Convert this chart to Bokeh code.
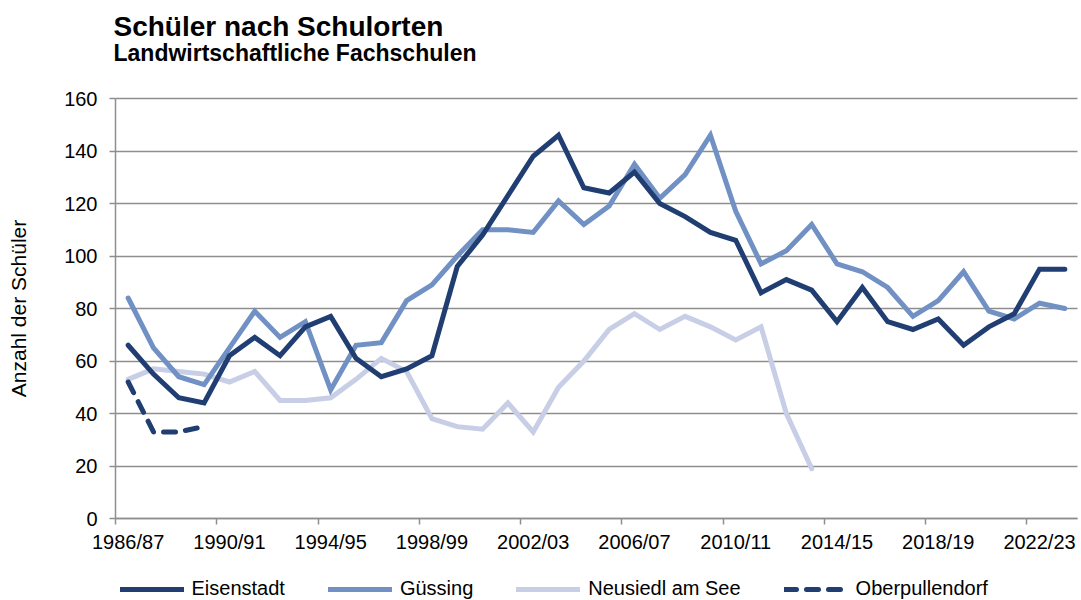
from bokeh.plotting import figure
from bokeh.models import FixedTicker, Label, Legend, LegendItem, Range1d
from bokeh.embed import file_html
from bokeh.resources import INLINE

years = ["1986/87", "1987/88", "1988/89", "1989/90", "1990/91", "1991/92", "1992/93",
         "1993/94", "1994/95", "1995/96", "1996/97", "1997/98", "1998/99", "1999/00",
         "2000/01", "2001/02", "2002/03", "2003/04", "2004/05", "2005/06", "2006/07",
         "2007/08", "2008/09", "2009/10", "2010/11", "2011/12", "2012/13", "2013/14",
         "2014/15", "2015/16", "2016/17", "2017/18", "2018/19", "2019/20", "2020/21",
         "2021/22", "2022/23", "2023/24"]

eisenstadt = [66, 55, 46, 44, 62, 69, 62, 73, 77, 61, 54, 57, 62, 96, 108, 123, 138, 146, 126, 124,
              132, 120, 115, 109, 106, 86, 91, 87, 75, 88, 75, 72, 76, 66, 73, 78, 95, 95]
guessing = [84, 65, 54, 51, 65, 79, 69, 75, 49, 66, 67, 83, 89, 100, 110, 110, 109, 121, 112, 119,
            135, 122, 131, 146, 117, 97, 102, 112, 97, 94, 88, 77, 83, 94, 79, 76, 82, 80]
neusiedl = [53, 57, 56, 55, 52, 56, 45, 45, 46, 53, 61, 56, 38, 35, 34, 44, 33, 50, 60, 72,
            78, 72, 77, 73, 68, 73, 40, 19]
oberpullendorf = [52, 33, 33, 35]

series_names = ["Eisenstadt", "Güssing", "Neusiedl am See", "Oberpullendorf"]
y_ticks = [0, 20, 40, 60, 80, 100, 120, 140, 160]
y_max = 160
label_every = 4

title_text = "Schüler nach Schulorten"
subtitle_text = "Landwirtschaftliche Fachschulen"
y_label_text = "Anzahl der Schüler"

FONT = "Liberation Sans"
GRID = "#8e8e8e"
C_EIS = "#213E72"
C_GUE = "#7190C4"
C_NEU = "#C7CEE6"
C_OBE = "#213E72"
LW = 5

# page geometry (pixels): the plotting frame covers the whole canvas,
# axes are pinned to the chart's own area inside it
W, H = 1081, 600
LEFT, RIGHT, TOP, ZERO_PX = 115, 1077, 98, 518
n = len(years)
w = (RIGHT - LEFT) / n
ppu = (ZERO_PX - TOP) / y_max

def px_to_x(px):
    return -0.5 + (px - LEFT) / w

def px_to_y(py):
    return y_max + (TOP - py) / ppu

p = figure(width=W, height=H,
           x_range=Range1d(px_to_x(0), px_to_x(W)), y_range=Range1d(px_to_y(H), px_to_y(0)),
           output_backend="svg", toolbar_location=None, title=None,
           min_border=0, min_border_left=0, min_border_right=0,
           min_border_top=0, min_border_bottom=0)
p.outline_line_color = None
p.background_fill_color = "white"
p.border_fill_color = "white"

def xs(vals):
    return list(range(len(vals)))

r_eis = p.line(xs(eisenstadt), eisenstadt, line_color=C_EIS, line_width=LW,
               line_join="miter", line_cap="round")
r_gue = p.line(xs(guessing), guessing, line_color=C_GUE, line_width=LW,
               line_join="miter", line_cap="round")
r_neu = p.line(xs(neusiedl), neusiedl, line_color=C_NEU, line_width=LW,
               line_join="miter", line_cap="round")
r_obe = p.line(xs(oberpullendorf), oberpullendorf, line_color=C_OBE, line_width=LW,
               line_dash="12 10", line_join="round", line_cap="round")

# x axis at value 0: labels centred on categories, tick marks on category boundaries
major = list(range(0, n, label_every))
minor = [m - 0.5 for m in major]
xa = p.xaxis[0]
xa.fixed_location = 0
xa.bounds = (-0.5, n - 0.5)
xa.ticker = FixedTicker(ticks=major, minor_ticks=minor)
xa.major_label_overrides = {i: years[i] for i in major}
xa.major_tick_out = 0
xa.major_tick_in = 0
xa.minor_tick_out = 6
xa.minor_tick_in = 0
xa.minor_tick_line_color = GRID
xa.minor_tick_line_width = 1.5
xa.axis_line_color = GRID
xa.axis_line_width = 1.5
xa.major_label_standoff = 6
xa.major_label_text_font = FONT
xa.major_label_text_font_size = "20px"
xa.major_label_text_color = "black"

# y axis at the left edge of the first category
ya = p.yaxis[0]
ya.fixed_location = -0.5
ya.bounds = (0, y_max)
ya.ticker = FixedTicker(ticks=y_ticks)
ya.major_tick_out = 6
ya.major_tick_in = 0
ya.minor_tick_line_color = None
ya.major_tick_line_color = GRID
ya.major_tick_line_width = 1.5
ya.axis_line_color = GRID
ya.axis_line_width = 1.5
ya.major_label_standoff = 12
ya.major_label_text_font = FONT
ya.major_label_text_font_size = "20px"
ya.major_label_text_color = "black"

p.xgrid.visible = False
p.ygrid.ticker = FixedTicker(ticks=y_ticks)
p.ygrid.cross_bounds = (-0.5, n - 0.5)
p.ygrid.grid_line_color = GRID
p.ygrid.grid_line_width = 1.5

p.renderers = [r_neu, r_gue, r_eis, r_obe]

# legend along the bottom
legend = Legend(items=[LegendItem(label=series_names[0], renderers=[r_eis]),
                       LegendItem(label=series_names[1], renderers=[r_gue]),
                       LegendItem(label=series_names[2], renderers=[r_neu]),
                       LegendItem(label=series_names[3], renderers=[r_obe])],
                location=(119.5, 0), orientation="horizontal", glyph_width=64, glyph_height=20,
                label_standoff=8, spacing=43, padding=0, margin=0,
                border_line_color=None, background_fill_alpha=0,
                label_text_font=FONT, label_text_font_size="20px", label_text_color="black")
p.add_layout(legend, "center")

# titles and y-axis title
p.add_layout(Label(x=px_to_x(113), y=px_to_y(26), text=title_text, text_font=FONT,
                   text_font_style="bold", text_font_size="28px", text_color="black",
                   text_align="left", text_baseline="alphabetic"))
p.add_layout(Label(x=px_to_x(113), y=px_to_y(52), text=subtitle_text, text_font=FONT,
                   text_font_style="bold", text_font_size="23px", text_color="black",
                   text_align="left", text_baseline="alphabetic"))
p.add_layout(Label(x=px_to_x(17.5), y=y_max / 2, text=y_label_text, text_font=FONT,
                   text_font_size="21px", text_color="black", angle=90, angle_units="deg",
                   text_align="center", text_baseline="alphabetic"))

open("out.html", "w").write(file_html(p, INLINE))
